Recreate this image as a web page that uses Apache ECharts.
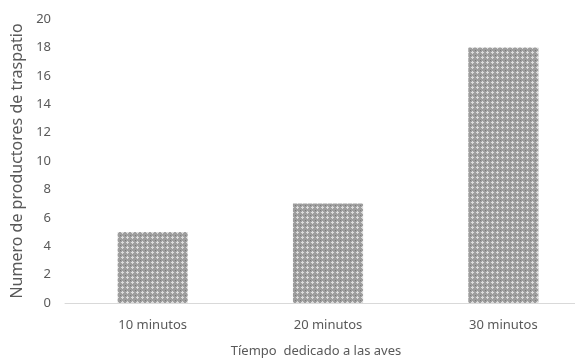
<!DOCTYPE html>
<html>
<head>
<meta charset="utf-8">
<script src="https://cdn.jsdelivr.net/npm/echarts@6/dist/echarts.min.js"></script>
<style>
  html, body { margin: 0; padding: 0; background: #fff; }
  #chart { width: 575px; height: 363px; }
</style>
</head>
<body>
<div id="chart"></div>
<script>
// Tiempo dedicado a las aves vs. número de productores
const categories = ['10 minutos', '20 minutos', '30 minutos'];
const productores = [5, 7, 18];
const yTicks = { min: 0, max: 20, interval: 2 };

// Small repeating tile used as the bar fill (grey lattice texture)
function makeTile() {
  const c = document.createElement('canvas');
  c.width = 5; c.height = 5;
  const g = c.getContext('2d');
  g.fillStyle = '#9e9e9e';
  g.fillRect(0, 0, 5, 5);
  g.fillStyle = '#dcdcdc';
  g.fillRect(2, 1, 1, 3);
  g.fillRect(1, 2, 3, 1);
  g.fillStyle = '#7a7a7a';
  g.fillRect(0, 0, 1, 1);
  return c;
}

const chart = echarts.init(document.getElementById('chart'));
const font = 'Noto Sans';
chart.setOption({
  animation: false,
  grid: { left: 65, top: 19, width: 526, height: 284, outerBoundsMode: 'none', containLabel: false },
  xAxis: {
    type: 'category',
    data: categories,
    axisLine: { lineStyle: { color: '#d9d9d9', width: 1 } },
    axisTick: { show: false },
    axisLabel: { color: '#595959', fontFamily: font, fontSize: 13, margin: 16 },
    name: 'Tíempo  dedicado a las aves',
    nameLocation: 'middle',
    nameGap: 42,
    nameTextStyle: { color: '#595959', fontFamily: font, fontSize: 13, padding: [0, 24, 0, 0] }
  },
  yAxis: {
    type: 'value',
    min: yTicks.min, max: yTicks.max, interval: yTicks.interval,
    splitLine: { show: false },
    axisLine: { show: false },
    axisTick: { show: false },
    axisLabel: { color: '#595959', fontFamily: font, fontSize: 13, margin: 14 },
    name: 'Numero de productores de traspatio',
    nameLocation: 'middle',
    nameGap: 36,
    nameTextStyle: { color: '#595959', fontFamily: font, fontSize: 16 }
  },
  series: [{
    type: 'bar',
    data: productores,
    barWidth: '40%',
    itemStyle: { color: { image: makeTile(), repeat: 'repeat' } }
  }]
});
</script>
</body>
</html>
